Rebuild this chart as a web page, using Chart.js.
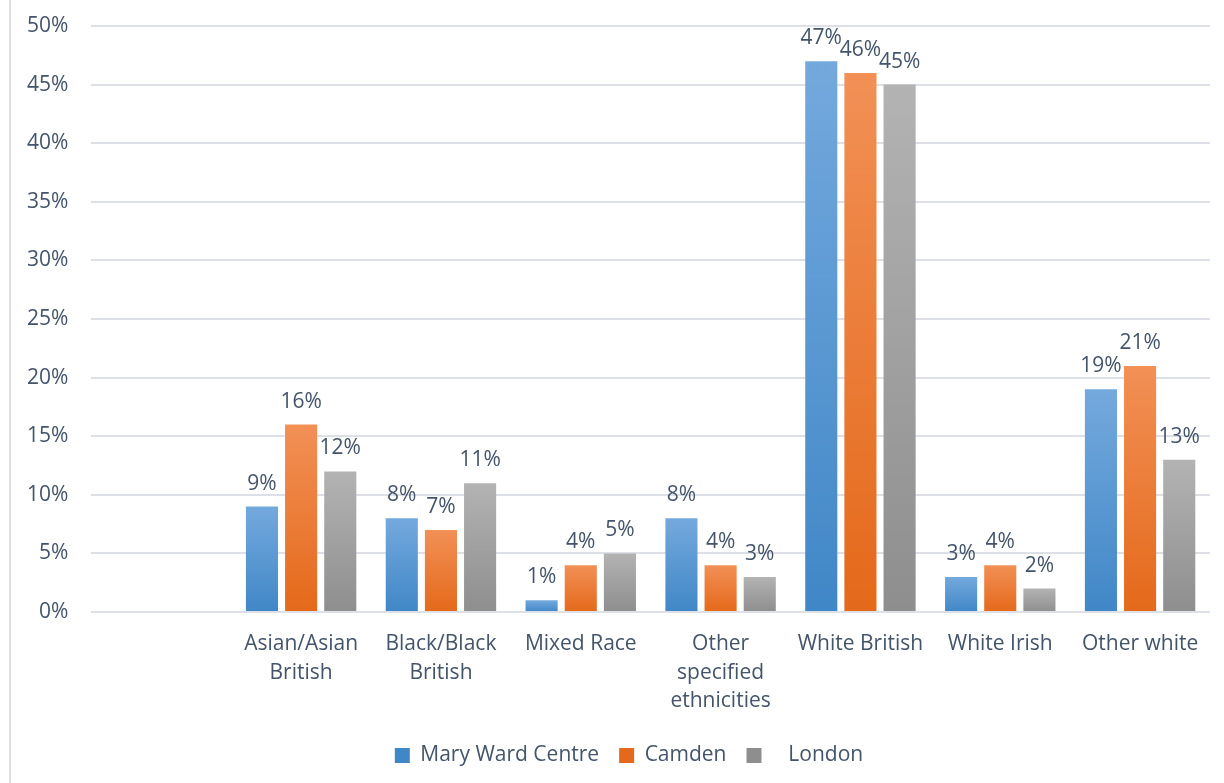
<!DOCTYPE html>
<html>
<head>
<meta charset="utf-8">
<title>Ethnicity of learners</title>
<script src="https://cdn.jsdelivr.net/npm/chart.js@4/dist/chart.umd.min.js"></script>
<style>
  html, body { margin: 0; padding: 0; background: #fff; }
  #wrap {
    position: relative;
    width: 1224px;
    height: 783px;
  }
  #edge {
    position: absolute;
    left: 9px;
    top: 0;
    width: 2px;
    height: 783px;
    background: #dde1e7;
  }
  #chartEthnicity { position: absolute; left: 0; top: 0; }
</style>
</head>
<body>
<div id="wrap">
  <div id="edge"></div>
  <canvas id="chartEthnicity" width="1224" height="783"></canvas>
</div>
<script>
const categories = [
  '',
  ['Asian/Asian', 'British'],
  ['Black/Black', 'British'],
  'Mixed Race',
  ['Other', 'specified', 'ethnicities'],
  'White British',
  'White Irish',
  'Other white',
]
const maryWard = [null, 9, 8, 1, 8, 47, 3, 19]
const camden = [null, 16, 7, 4, 4, 46, 4, 21]
const london = [null, 12, 11, 5, 3, 45, 2, 13]
const yTicks = [0, 5, 10, 15, 20, 25, 30, 35, 40, 45, 50]

const textColor = '#44546a'
const gridColor = '#dde1e7'
const fontFamily = "'Open Sans', 'Noto Sans', sans-serif"
const fontSize = 21

// top / bottom colours of each bar gradient
const shades = {
  blue: ['#74a9dd', '#4087c7'],
  orange: ['#f29056', '#e4691a'],
  grey: ['#b3b3b3', '#8e8e8e'],
}

function barGradient(pair) {
  return function (context) {
    const chart = context.chart
    const { ctx, chartArea, scales } = chart
    if (!chartArea || context.raw == null) return pair[1]
    const top = scales.y.getPixelForValue(context.raw)
    const bottom = scales.y.getPixelForValue(0)
    if (bottom - top < 1) return pair[1]
    const g = ctx.createLinearGradient(0, top, 0, bottom)
    g.addColorStop(0, pair[0])
    g.addColorStop(1, pair[1])
    return g
  }
}

// value labels above each bar
const valueLabels = {
  id: 'valueLabels',
  afterDatasetsDraw(chart) {
    const ctx = chart.ctx
    ctx.save()
    ctx.font = `${fontSize}px ${fontFamily}`
    ctx.fillStyle = textColor
    ctx.textAlign = 'center'
    ctx.textBaseline = 'alphabetic'
    chart.data.datasets.forEach((ds, i) => {
      const meta = chart.getDatasetMeta(i)
      meta.data.forEach((bar, j) => {
        const v = ds.data[j]
        if (v == null) return
        ctx.fillText(v + '%', bar.x, bar.y - 17)
      })
    })
    ctx.restore()
  },
}

// centre the legend under the plot rather than the whole canvas
const legendShift = {
  id: 'legendShift',
  afterLayout(chart) {
    const lg = chart.legend
    if (!lg) return
    lg.left += 22
    lg.right += 22
  },
}

const ctx = document.getElementById('chartEthnicity').getContext('2d')

new Chart(ctx, {
  type: 'bar',
  data: {
    labels: categories,
    datasets: [
      {
        label: 'Mary Ward Centre',
        data: maryWard,
        backgroundColor: barGradient(shades.blue),
      },
      {
        label: 'Camden',
        data: camden,
        backgroundColor: barGradient(shades.orange),
      },
      {
        label: '   London',
        data: london,
        backgroundColor: barGradient(shades.grey),
      },
    ],
  },
  options: {
    responsive: false,
    animation: false,
    categoryPercentage: 0.84,
    barPercentage: 0.82,
    layout: {
      padding: { left: 4, right: 14, top: 26, bottom: 7 },
    },
    scales: {
      x: {
        grid: { display: false },
        border: { display: false },
        ticks: {
          color: textColor,
          font: { family: fontFamily, size: fontSize, lineHeight: 1.38 },
          maxRotation: 0,
          autoSkip: false,
          padding: 9,
        },
      },
      y: {
        min: 0,
        max: 50,
        afterBuildTicks(axis) {
          axis.ticks = yTicks.map(v => ({ value: v }))
        },
        afterFit(axis) {
          axis.paddingTop = 0
          axis.paddingBottom = 0
        },
        grid: {
          color: gridColor,
          lineWidth: 2,
          drawTicks: false,
        },
        border: { display: false },
        ticks: {
          color: textColor,
          font: { family: fontFamily, size: fontSize },
          padding: 23,
          callback: v => v + '%',
        },
      },
    },
    plugins: {
      legend: {
        position: 'bottom',
        labels: {
          color: textColor,
          font: { family: fontFamily, size: fontSize },
          boxWidth: 15,
          boxHeight: 15,
          padding: 20,
          generateLabels(chart) {
            const colors = [shades.blue, shades.orange, shades.grey]
            return chart.data.datasets.map((ds, i) => ({
              text: ds.label,
              fillStyle: colors[i][1],
              strokeStyle: colors[i][1],
              lineWidth: 0,
              fontColor: textColor,
              datasetIndex: i,
              hidden: false,
            }))
          },
        },
      },
      tooltip: { enabled: false },
    },
  },
  plugins: [valueLabels, legendShift],
})
</script>
</body>
</html>
